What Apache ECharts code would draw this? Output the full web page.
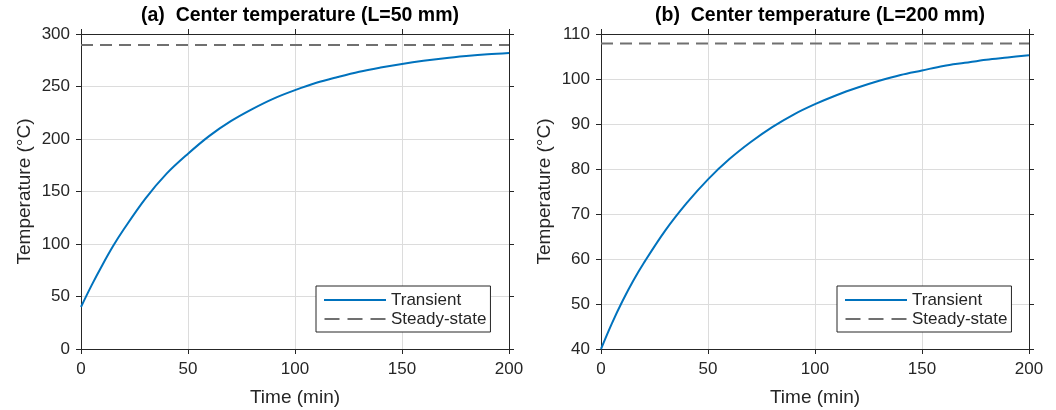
<!DOCTYPE html>
<html>
<head>
<meta charset="utf-8">
<script src="https://cdn.jsdelivr.net/npm/echarts@6/dist/echarts.min.js"></script>
<style>
  html, body { margin: 0; padding: 0; background: #fff; }
  #chart { width: 1056px; height: 410px; }
</style>
</head>
<body>
<div id="chart"></div>
<script>
// time axis (min) and center temperatures
const timeMin = [0, 5, 10, 15, 20, 30, 40, 50, 60, 70, 80, 90, 100, 110, 120, 130, 140, 150, 160, 170, 180, 190, 200];
const tempL50 = [40, 60.8, 80, 98, 114, 143, 167, 186, 203, 217, 228.5, 238.5, 246.5, 253.5, 259, 264, 268, 271.5, 274.5, 277, 279, 280.7, 282];
const tempL200 = [40, 45.6, 50.6, 55.1, 59.1, 66.3, 72.4, 77.7, 82.2, 86, 89.3, 92.1, 94.4, 96.4, 98.1, 99.6, 100.9, 101.9, 102.9, 103.6, 104.3, 104.8, 105.3];
const steadyTime = [0, 200];
const steadyL50 = [289.5, 289.5];
const steadyL200 = [107.9, 107.9];

const titles = ['(a)  Center temperature (L=50 mm)', '(b)  Center temperature (L=200 mm)'];
const xTicks = { min: 0, max: 200, interval: 50 };
const yTicksL50 = { min: 0, max: 300, interval: 50 };
const yTicksL200 = { min: 40, max: 110, interval: 10 };

const FONT = '"Liberation Sans", Arial, Helvetica, sans-serif';
const INK = '#262626';
const BLUE = '#0072BD';
const GRAY = '#707070';

// legend swatches drawn as paths so no marker dot shows up
const ICON_SOLID = 'path://M0,0H62V2H0Z';
const ICON_DASH = 'path://M0,0H15V2H0Z M23,0H38V2H23Z M46,0H61V2H46Z';

const pairs = (xs, ys) => xs.map((x, i) => [x, ys[i]]);

const chart = echarts.init(document.getElementById('chart'), null, { renderer: 'canvas' });

// bottom/left axes carry labels + grid; top/right are just the box with ticks
function xAxes(gridIndex) {
  const base = {
    type: 'value', gridIndex, ...xTicks,
    axisLine: { show: true, onZero: false, lineStyle: { color: INK, width: 1 } },
    axisTick: { show: true, length: 5, lineStyle: { color: INK } },
  };
  return [
    {
      ...base, position: 'bottom',
      name: 'Time (min)', nameLocation: 'middle', nameGap: 39,
      nameTextStyle: { fontFamily: FONT, fontSize: 19, color: INK },
      axisLabel: { fontFamily: FONT, fontSize: 17, color: INK, margin: 12 },
      splitLine: { show: true, lineStyle: { color: '#dcdcdc', width: 1 } },
    },
    { ...base, position: 'top', axisLabel: { show: false }, splitLine: { show: false } },
  ];
}

function yAxes(gridIndex, ticks) {
  const base = {
    type: 'value', gridIndex, ...ticks,
    axisLine: { show: true, onZero: false, lineStyle: { color: INK, width: 1 } },
    axisTick: { show: true, length: 5, lineStyle: { color: INK } },
  };
  return [
    {
      ...base, position: 'left',
      name: 'Temperature (°C)', nameLocation: 'middle', nameRotate: 90, nameGap: 47,
      nameTextStyle: { fontFamily: FONT, fontSize: 19, color: INK },
      axisLabel: { fontFamily: FONT, fontSize: 17, color: INK, margin: 11 },
      splitLine: { show: true, lineStyle: { color: '#dcdcdc', width: 1 } },
    },
    { ...base, position: 'right', axisLabel: { show: false }, splitLine: { show: false } },
  ];
}

function legendAt(left) {
  return {
    left, top: 286, orient: 'vertical',
    data: [
      { name: 'Transient', icon: ICON_SOLID },
      { name: 'Steady-state', icon: ICON_DASH },
    ],
    backgroundColor: '#fff', borderColor: INK, borderWidth: 1, borderRadius: 0,
    padding: [5, 4, 4, 8], itemGap: 1, itemWidth: 62, itemHeight: 2,
    textStyle: { fontFamily: FONT, fontSize: 17, color: INK, lineHeight: 18 },
    selectedMode: false,
  };
}

const transientStyle = { color: BLUE, width: 2 };
const steadyStyle = { color: GRAY, width: 2, type: [12, 7] };

const option = {
  backgroundColor: '#fff',
  animation: false,
  title: [
    { text: titles[0], left: 295, top: 1, textAlign: 'center',
      textStyle: { fontFamily: FONT, fontSize: 19.5, fontWeight: 'bold', color: '#000' } },
    { text: titles[1], left: 815, top: 1, textAlign: 'center',
      textStyle: { fontFamily: FONT, fontSize: 19.5, fontWeight: 'bold', color: '#000' } },
  ],
  legend: [legendAt(316), legendAt(837)],
  grid: [
    { left: 81, right: 547, top: 34, bottom: 61, outerBoundsMode: 'none' },
    { left: 601, right: 27, top: 34, bottom: 61, outerBoundsMode: 'none' },
  ],
  xAxis: [...xAxes(0), ...xAxes(1)],
  yAxis: [...yAxes(0, yTicksL50), ...yAxes(1, yTicksL200)],
  series: [
    { name: 'Transient', type: 'line', xAxisIndex: 0, yAxisIndex: 0, data: pairs(timeMin, tempL50),
      symbol: 'none', smooth: 0.35, lineStyle: transientStyle, itemStyle: { color: BLUE } },
    { name: 'Steady-state', type: 'line', xAxisIndex: 0, yAxisIndex: 0, data: pairs(steadyTime, steadyL50),
      symbol: 'none', lineStyle: steadyStyle, itemStyle: { color: GRAY } },
    { name: 'Transient', type: 'line', xAxisIndex: 2, yAxisIndex: 2, data: pairs(timeMin, tempL200),
      symbol: 'none', smooth: 0.35, lineStyle: transientStyle, itemStyle: { color: BLUE } },
    { name: 'Steady-state', type: 'line', xAxisIndex: 2, yAxisIndex: 2, data: pairs(steadyTime, steadyL200),
      symbol: 'none', lineStyle: steadyStyle, itemStyle: { color: GRAY } },
  ],
};

chart.setOption(option);
</script>
</body>
</html>
